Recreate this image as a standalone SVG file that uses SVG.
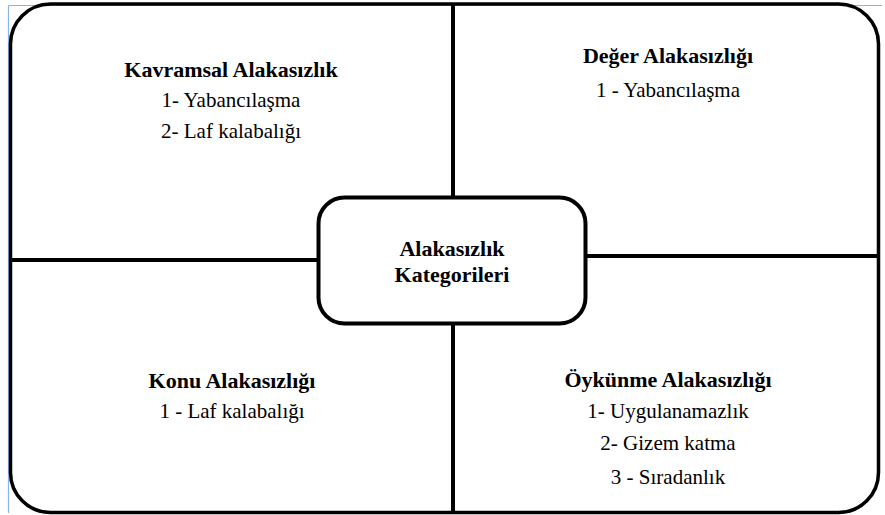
<svg xmlns="http://www.w3.org/2000/svg" width="885" height="515" viewBox="0 0 885 515">
<style>
.frame{fill:none;stroke:#000;stroke-width:3.5}
.ln{stroke:#000;stroke-width:4;fill:none}
.blue{stroke:#8eb4e3;stroke-width:1.2;fill:none}
.tx{font-family:"Liberation Serif","Times New Roman",Times,"Noto Serif","DejaVu Serif",serif;text-anchor:middle;fill:#000}
.h{font-weight:bold;font-size:22px}
.t{font-size:21px}
</style>
<rect width="885" height="515" fill="#fff"/>
<line class="blue" x1="8.5" y1="5.5" x2="882" y2="5.5"/>
<line class="blue" x1="8.5" y1="5.5" x2="8.5" y2="513"/>
<g id="frame">
<rect class="frame" x="10.5" y="4" width="868" height="508.5" rx="40" ry="40"/>
</g>
<g id="connectors">
<line class="ln" x1="453" y1="4" x2="453" y2="197"/>
<line class="ln" x1="453" y1="324" x2="453" y2="513"/>
<line class="ln" x1="10" y1="260" x2="318" y2="260"/>
<line class="ln" x1="586" y1="256" x2="880" y2="256"/>
</g>
<g id="center">
<rect x="318.5" y="197.5" width="267" height="126" rx="26" ry="26" fill="#fff" stroke="#000" stroke-width="4"/>
<text class="tx h" x="452" y="256">Alakasızlık</text>
<text class="tx h" x="452" y="282">Kategorileri</text>
</g>
<g id="kavramsal">
<text class="tx h" x="231" y="77">Kavramsal Alakasızlık</text>
<text class="tx t" x="231" y="107">1- Yabancılaşma</text>
<text class="tx t" x="231" y="138">2- Laf kalabalığı</text>
</g>
<g id="deger">
<text class="tx h" x="668" y="63">Değer Alakasızlığı</text>
<text class="tx t" x="668" y="97">1 - Yabancılaşma</text>
</g>
<g id="konu">
<text class="tx h" x="232" y="388">Konu Alakasızlığı</text>
<text class="tx t" x="232" y="418">1 - Laf kalabalığı</text>
</g>
<g id="oykunme">
<text class="tx h" x="668" y="387">Öykünme Alakasızlığı</text>
<text class="tx t" x="668" y="418">1- Uygulanamazlık</text>
<text class="tx t" x="668" y="450">2- Gizem katma</text>
<text class="tx t" x="668" y="484">3 - Sıradanlık</text>
</g>
</svg>
